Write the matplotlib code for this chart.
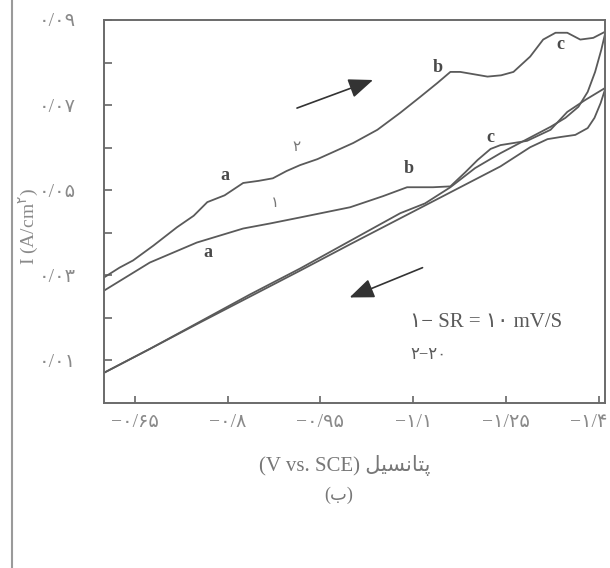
import matplotlib
matplotlib.use("Agg")
import matplotlib.pyplot as plt
from matplotlib.lines import Line2D
from matplotlib.ticker import FixedLocator, FuncFormatter
from matplotlib.transforms import ScaledTranslation

# potential (V vs. SCE) and current density (A/cm2)
# scan 2 (20 mV/s), forward: -0.6 -> -1.41
v2_fwd = [-0.600, -0.625, -0.647, -0.680, -0.718, -0.745, -0.767, -0.795, -0.825,
          -0.850, -0.873, -0.895, -0.917, -0.945, -0.971, -1.003, -1.042, -1.079,
          -1.111, -1.139, -1.160, -1.176, -1.200, -1.220, -1.242, -1.262, -1.289,
          -1.310, -1.330, -1.349, -1.370, -1.391, -1.411]
i2_fwd = [0.0295, 0.0318, 0.0335, 0.0370, 0.0413, 0.0440, 0.0472, 0.0488, 0.0517,
          0.0522, 0.0528, 0.0545, 0.0559, 0.0573, 0.0590, 0.0611, 0.0642, 0.0682,
          0.0719, 0.0752, 0.0778, 0.0778, 0.0772, 0.0767, 0.0770, 0.0778, 0.0814,
          0.0854, 0.0870, 0.0870, 0.0854, 0.0858, 0.0873]
# scan 2, return
v2_rev = [-1.411, -1.404, -1.394, -1.382, -1.367, -1.346, -1.322, -1.284, -1.241,
          -1.200, -1.160, -1.119, -1.079, -0.998, -0.917, -0.836, -0.755, -0.674,
          -0.600]
i2_rev = [0.0873, 0.0830, 0.0778, 0.0731, 0.0696, 0.0670, 0.0649, 0.0620, 0.0587,
          0.0552, 0.0507, 0.0469, 0.0446, 0.0381, 0.0316, 0.0255, 0.0191, 0.0127,
          0.0071]
# scan 1 (10 mV/s), forward
v1_fwd = [-0.600, -0.674, -0.750, -0.825, -0.869, -0.917, -0.998, -1.051, -1.090,
          -1.132, -1.160, -1.184, -1.204, -1.225, -1.241, -1.284, -1.322, -1.349,
          -1.378, -1.411]
i1_fwd = [0.0264, 0.0330, 0.0377, 0.0410, 0.0422, 0.0436, 0.0460, 0.0486, 0.0507,
          0.0507, 0.0509, 0.0542, 0.0571, 0.0597, 0.0606, 0.0616, 0.0642, 0.0684,
          0.0712, 0.0741]
# scan 1, return
v1_rev = [-1.411, -1.403, -1.393, -1.382, -1.362, -1.338, -1.317, -1.289, -1.241,
          -1.160, -1.079, -0.998, -0.917, -0.836, -0.755, -0.674, -0.600]
i1_rev = [0.0741, 0.0705, 0.0670, 0.0646, 0.0630, 0.0625, 0.0620, 0.0601, 0.0556,
          0.0495, 0.0434, 0.0373, 0.0311, 0.0250, 0.0189, 0.0127, 0.0071]

x_ticks = [-0.65, -0.8, -0.95, -1.1, -1.25, -1.4]
y_ticks = [0.01, 0.02, 0.03, 0.04, 0.05, 0.06, 0.07, 0.08, 0.09]
y_labeled = [0.01, 0.03, 0.05, 0.07, 0.09]

# point labels on the curves: (text, V, I)
letter_labels = [("a", -0.796, 0.0535), ("b", -1.139, 0.0788), ("c", -1.338, 0.0842),
                 ("a", -0.768, 0.0354), ("b", -1.092, 0.0552), ("c", -1.225, 0.0623)]
curve_ids = [("\u06f2", -0.912, 0.0601), ("\u06f1", -0.877, 0.0469)]
# scan-direction arrows: (tail, tip)
arrows = [((-0.912, 0.0693), (-1.035, 0.0759)),
          ((-1.115, 0.0318), (-0.997, 0.0248))]

FA = "\u06f0\u06f1\u06f2\u06f3\u06f4\u06f5\u06f6\u06f7\u06f8\u06f9"
FAM = ["Liberation Serif", "DejaVu Sans"]
LINE = "#5a5a5a"
TICK_FG = "#8a8a8a"


def fa_num(s):
    return "".join(FA[int(ch)] if ch.isdigit() else ch for ch in s)


def fmt_x(v, _pos):
    return "\u2212" + fa_num(f"{abs(v):g}".replace(".", "/"))


def fmt_y(v, _pos):
    if not any(abs(v - t) < 1e-9 for t in y_labeled):
        return ""
    return fa_num(f"{v:.2f}".replace(".", "/"))


plt.rcParams["font.family"] = FAM
plt.rcParams["mathtext.fontset"] = "dejavusans"

fig = plt.figure(figsize=(6.1, 5.68), dpi=100)
ax = fig.add_axes([0.1705, 0.2905, 0.8213, 0.6743])

for v, i in ((v2_fwd, i2_fwd), (v2_rev, i2_rev), (v1_fwd, i1_fwd), (v1_rev, i1_rev)):
    ax.plot(v, i, color=LINE, lw=1.3)

for txt, v, i in letter_labels:
    ax.text(v, i, txt, fontsize=13, fontweight="bold", color="#4a4a4a",
            ha="center", va="center")
for txt, v, i in curve_ids:
    ax.text(v, i, txt, fontsize=11, color="#777777", ha="center", va="center")

for tail, tip in arrows:
    ax.annotate("", xy=tip, xytext=tail,
                arrowprops=dict(arrowstyle="-|>,head_length=1.5,head_width=0.6",
                                color="#333333", lw=1.2, shrinkA=0, shrinkB=0))

ax.text(-1.095, 0.0189, "\u06f1\u2212 SR = \u06f1\u06f0 mV/S", fontsize=15,
        color="#5a5a5a", va="center", ha="left")
ax.text(-1.095, 0.0113, "\u06f2\u2212\u06f2\u06f0", fontsize=12,
        color="#5a5a5a", va="center", ha="left")

ax.set_xlim(-0.6, -1.41)
ax.set_ylim(0, 0.09)
ax.xaxis.set_major_locator(FixedLocator(x_ticks))
ax.yaxis.set_major_locator(FixedLocator(y_ticks))
ax.xaxis.set_major_formatter(FuncFormatter(fmt_x))
ax.yaxis.set_major_formatter(FuncFormatter(fmt_y))
ax.tick_params(axis="x", direction="in", length=5, width=1.2, color="#666666",
               labelsize=14, labelcolor=TICK_FG, pad=8)
ax.tick_params(axis="y", direction="in", length=6, width=1.2, color="#666666",
               labelsize=14, labelcolor=TICK_FG, pad=20)
# last x label sits at the right border, keep it inside the figure
last = ax.get_xticklabels()[-1]
last.set_horizontalalignment("right")
last.set_transform(last.get_transform()
                   + ScaledTranslation(9 / 100, 0, fig.dpi_scale_trans))
for side in ("left", "bottom", "top", "right"):
    ax.spines[side].set_color("#6a6a6a")
    ax.spines[side].set_linewidth(1.4)

ax.set_ylabel("I (A/cm$^{\u06f2}$)", fontsize=14, color=TICK_FG)
ax.yaxis.set_label_coords(-0.125, 0.46)

# persian caption in presentation forms, visual order
fa_word = "\ufede\ufef4\ufeb4\ufee7\ufe8e\ufe98\ufb58"
fig.text(0.565, 0.18, "(V vs. SCE) " + fa_word, fontsize=15, color="#777777",
         ha="center", va="center")
fig.text(0.555, 0.128, "(\u0628)", fontsize=13, color="#777777",
         ha="center", va="center")

fig.add_artist(Line2D([12 / 610, 12 / 610], [0, 1], color="#9a9a9a", lw=1.5))

fig.savefig("out.png", dpi=100, facecolor="white")
